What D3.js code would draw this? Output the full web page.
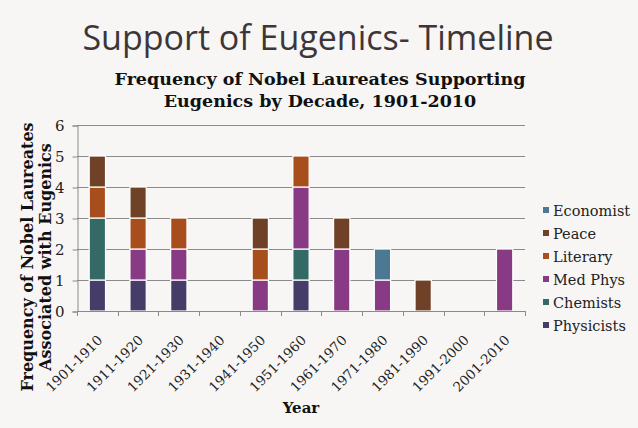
<!DOCTYPE html>
<html>
<head>
<meta charset="utf-8">
<script src="https://cdn.jsdelivr.net/npm/d3@7"></script>
<style>
  html, body { margin: 0; padding: 0; background: #f7f6f5; }
  svg { display: block; }
</style>
</head>
<body>
<div id="container"></div>
<script>
const decades = ['1901-1910', '1911-1920', '1921-1930', '1931-1940', '1941-1950', '1951-1960',
    '1961-1970', '1971-1980', '1981-1990', '1991-2000', '2001-2010'];

// stacked bottom to top
const seriesNames = ['Physicists', 'Chemists', 'Med Phys', 'Literary', 'Peace', 'Economist'];
const physicists = [1, 1, 1, 0, 0, 1, 0, 0, 0, 0, 0];
const chemists   = [2, 0, 0, 0, 0, 1, 0, 0, 0, 0, 0];
const medPhys    = [0, 1, 1, 0, 1, 2, 2, 1, 0, 0, 2];
const literary   = [1, 1, 1, 0, 1, 1, 0, 0, 0, 0, 0];
const peace      = [1, 1, 0, 0, 1, 0, 1, 0, 1, 0, 0];
const economist  = [0, 0, 0, 0, 0, 0, 0, 1, 0, 0, 0];
const yTicks = [0, 1, 2, 3, 4, 5, 6];

const colors = ['#453c68', '#336a66', '#883a84', '#a84e1d', '#6f4127', '#4c7893'];

const W = 638, H = 428;
const plot = {left: 77, right: 525, top: 125, bottom: 311};

const rows = decades.map((d, i) => ({
    decade: d,
    'Physicists': physicists[i],
    'Chemists': chemists[i],
    'Med Phys': medPhys[i],
    'Literary': literary[i],
    'Peace': peace[i],
    'Economist': economist[i]
}));

const stacked = d3.stack().keys(seriesNames)(rows);

const x = d3.scaleBand().domain(decades).range([plot.left, plot.right]).paddingInner(0.6).paddingOuter(0.3);
const xEdges = d3.scaleLinear().domain([0, decades.length]).range([plot.left, plot.right]);
const y = d3.scaleLinear().domain([0, 6]).range([plot.bottom, plot.top]);
const color = d3.scaleOrdinal().domain(seriesNames).range(colors);

const svg = d3.select('#container').append('svg')
    .attr('width', W)
    .attr('height', H);

svg.append('rect').attr('width', W).attr('height', H).style('fill', '#f7f6f5');

svg.append('text')
    .attr('x', 318).attr('y', 50)
    .attr('text-anchor', 'middle')
    .style('font-family', 'Open Sans, sans-serif')
    .style('font-size', '34px')
    .style('font-weight', 400)
    .style('fill', '#3d3638')
    .text('Support of Eugenics- Timeline');

const sub = svg.append('text')
    .attr('text-anchor', 'middle')
    .style('font-family', 'DejaVu Serif, serif')
    .style('font-weight', 'bold')
    .style('font-size', '17.5px')
    .style('fill', '#111');
sub.append('tspan').attr('x', 320).attr('y', 85).text('Frequency of Nobel Laureates  Supporting');
sub.append('tspan').attr('x', 320).attr('y', 107).text('Eugenics by Decade, 1901-2010');

// gridlines
svg.append('g').selectAll('line').data(yTicks.filter(t => t > 0)).enter().append('line')
    .attr('x1', plot.left).attr('x2', plot.right)
    .attr('y1', d => Math.round(y(d)) + 0.5).attr('y2', d => Math.round(y(d)) + 0.5)
    .style('stroke', '#8a8a8a').style('stroke-width', 1);

// y axis
const yAxis = d3.axisLeft(y).tickValues(yTicks).tickSize(5).tickPadding(8).tickFormat(d3.format('d'));
const yg = svg.append('g').attr('transform', `translate(${plot.left + 0.5},0.5)`).call(yAxis);
yg.selectAll('path, line').style('stroke', '#8a8a8a');
yg.selectAll('text')
    .style('font-family', 'DejaVu Serif, serif')
    .style('font-size', '15px')
    .style('fill', '#222');

// bars
const layers = svg.append('g').selectAll('g').data(stacked).enter().append('g')
    .style('fill', d => color(d.key));
layers.selectAll('rect').data(d => d.filter(s => s[1] > s[0])).enter().append('rect')
    .attr('x', d => x(d.data.decade))
    .attr('width', x.bandwidth())
    .attr('y', d => y(d[1]))
    .attr('height', d => y(d[0]) - y(d[1]))
    .style('stroke', '#ffffff')
    .style('stroke-width', 1.2);

// x axis
const xg = svg.append('g');
xg.append('line')
    .attr('x1', plot.left).attr('x2', plot.right)
    .attr('y1', plot.bottom + 0.5).attr('y2', plot.bottom + 0.5)
    .style('stroke', '#8a8a8a');
xg.selectAll('line.tick').data(d3.range(decades.length + 1)).enter().append('line')
    .attr('class', 'tick')
    .attr('x1', d => Math.round(xEdges(d)) + 0.5).attr('x2', d => Math.round(xEdges(d)) + 0.5)
    .attr('y1', plot.bottom).attr('y2', plot.bottom + 5)
    .style('stroke', '#8a8a8a');
xg.selectAll('text').data(decades).enter().append('text')
    .attr('transform', d => `translate(${x(d) + x.bandwidth() / 2 + 6} ${plot.bottom + 30}) rotate(-45)`)
    .attr('text-anchor', 'end')
    .style('font-family', 'DejaVu Serif, serif')
    .style('font-size', '13.5px')
    .style('fill', '#222')
    .text(d => d);

svg.append('text')
    .attr('x', (plot.left + plot.right) / 2).attr('y', 413)
    .attr('text-anchor', 'middle')
    .style('font-family', 'DejaVu Serif, serif')
    .style('font-weight', 'bold')
    .style('font-size', '15px')
    .style('fill', '#111')
    .text('Year');

const yTitle = svg.append('text')
    .attr('transform', 'translate(0 257) rotate(-90)')
    .attr('text-anchor', 'middle')
    .style('font-family', 'DejaVu Serif, serif')
    .style('font-weight', 'bold')
    .style('font-size', '16px')
    .style('fill', '#111');
yTitle.append('tspan').attr('x', 0).attr('y', 33).text('Frequency of Nobel Laureates');
yTitle.append('tspan').attr('x', 0).attr('y', 51).text('Associated with Eugenics');

// legend
const legend = svg.append('g').selectAll('g').data(seriesNames.slice().reverse()).enter().append('g')
    .attr('transform', (d, i) => `translate(543 ${212 + i * 23})`);
legend.append('rect')
    .attr('x', 0).attr('y', -5).attr('width', 6).attr('height', 6)
    .style('fill', d => color(d));
legend.append('text')
    .attr('x', 10).attr('y', 4)
    .style('font-family', 'DejaVu Serif, serif')
    .style('font-size', '14.5px')
    .style('fill', '#222')
    .text(d => d);
</script>
</body>
</html>
